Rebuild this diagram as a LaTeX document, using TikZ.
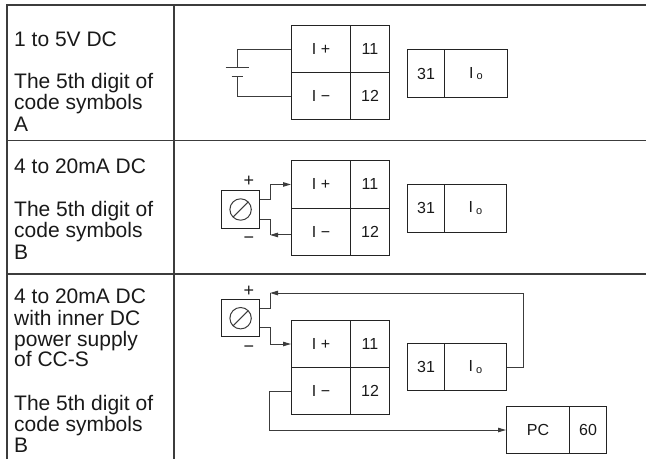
\documentclass[tikz,border=0pt]{standalone}
\usepackage{fontspec}
\setmainfont{Liberation Sans}
\usetikzlibrary{arrows.meta,calc}
\definecolor{tblc}{RGB}{60,60,60}
\definecolor{boxc}{RGB}{35,35,35}
\definecolor{wirec}{RGB}{60,60,60}
\definecolor{txtc}{RGB}{25,25,25}
\tikzset{
  tbl/.style={draw=tblc, line width=1.4pt},
  cell/.style 2 args={draw=boxc, line width=1pt, inner sep=0pt, anchor=north west,
    minimum width=#1pt, minimum height=#2pt, text=txtc, font=\fontsize{16}{16}\selectfont},
  pot/.style={draw=boxc, line width=1pt, inner sep=0pt, minimum size=37.5pt},
  wire/.style={draw=wirec, line width=1pt},
  tipa/.style={-{Triangle[length=8pt,width=4.5pt]}},
  lab/.style={inner sep=0pt, text=txtc, font=\fontsize{18}{18}\selectfont},
  txt/.style={anchor=base west, inner sep=0pt, text=txtc, font=\fontsize{21}{21}\selectfont}
}
\newcommand{\Iout}{I\kern3pt\raisebox{-1.8pt}{\fontsize{11}{11}\selectfont o}}
\begin{document}
\begin{tikzpicture}[x=1pt,y=-1pt]
\useasboundingbox (0,0) rectangle (646,459);
% table
\draw[tbl] (7,459) -- (7,5) -- (646,5);
\draw[tbl] (174,5) -- (174,459);
\draw[tbl] (7,140.5) -- (646,140.5);
\draw[tbl] (7,274) -- (646,274);
% left column texts
\node[txt] (t1a) at (14,46.5) {1 to 5V DC};
\node[txt] (t1b) at (14,88.5) {The 5th digit of};
\node[txt] (t1c) at (14,109.8) {code symbols};
\node[txt] (t1d) at (14,131) {A};
\node[txt] (t2a) at (14,173.3) {4 to 20mA DC};
\node[txt] (t2b) at (14,216) {The 5th digit of};
\node[txt] (t2c) at (14,237.3) {code symbols};
\node[txt] (t2d) at (14,259) {B};
\node[txt] (t3a) at (14,303.3) {4 to 20mA DC};
\node[txt] (t3b) at (14,325) {with inner DC};
\node[txt] (t3c) at (14,346) {power supply};
\node[txt] (t3d) at (14,366.7) {of CC-S};
\node[txt] (t3e) at (14,410) {The 5th digit of};
\node[txt] (t3f) at (14,431.3) {code symbols};
\node[txt] (t3g) at (14,452.7) {B};
% row 1
\node[cell={59}{47}] (a1p) at (291,25) {I +};
\node[cell={39}{47}] (a11) at (350,25) {11};
\node[cell={59}{47}] (a1n) at (291,72) {I −};
\node[cell={39}{47}] (a12) at (350,72) {12};
\node[cell={37}{48}] (a31) at (407,49) {31};
\node[cell={63}{48}] (aio) at (444,49) {\Iout};
\coordinate (bt1) at (237,67.7);
\coordinate (bt2) at (237,76);
\draw[wire] (a1p.west) -| (bt1);
\draw[wire] ($(bt1)+(-11.5,0)$) -- ($(bt1)+(11.5,0)$);
\draw[wire] ($(bt2)+(-5.5,0)$) -- ($(bt2)+(5.5,0)$);
\draw[wire] (bt2) |- (a1n.west);
% row 2
\node[cell={59}{47.3}] (b1p) at (291,160.3) {I +};
\node[cell={39}{47.3}] (b11) at (350,160.3) {11};
\node[cell={59}{47.7}] (b1n) at (291,207.6) {I −};
\node[cell={39}{47.7}] (b12) at (350,207.6) {12};
\node[cell={37}{47.5}] (b31) at (407,184) {31};
\node[cell={62}{47.5}] (bio) at (444,184) {\Iout};
\node[pot] (p2) at (240.6,209.5) {};
\draw[wire] (p2.center) circle (10.7);
\draw[wire] ($(p2.center)+(135:10.7)$) -- ($(p2.center)+(-45:10.7)$);
\node[lab] (p2plus) at (249,181) {+};
\node[lab] (p2minus) at (249,240) {−};
\coordinate (p2a) at ($(p2.north east)!0.25!(p2.south east)$);
\coordinate (p2b) at ($(p2.north east)!0.75!(p2.south east)$);
\draw[wire,tipa] (p2a) -- ++(10.5,0) |- (b1p.west);
\coordinate (b2nw) at ($(b1n.west)+(0,3)$);
\draw[wire,tipa] (b2nw) -- ++(-21,0) coordinate (k2);
\draw[wire] (k2) |- (p2b);
% row 3
\node[cell={59}{47}] (c1p) at (291,320) {I +};
\node[cell={39}{47}] (c11) at (350,320) {11};
\node[cell={59}{47}] (c1n) at (291,367) {I −};
\node[cell={39}{47}] (c12) at (350,367) {12};
\node[cell={37}{47}] (c31) at (407,343) {31};
\node[cell={62}{47}] (cio) at (444,343) {\Iout};
\node[cell={63}{47}] (pc) at (506,406) {PC};
\node[cell={37}{47}] (c60) at (569,406) {60};
\node[pot] (p3) at (240.6,318.2) {};
\draw[wire] (p3.center) circle (10.7);
\draw[wire] ($(p3.center)+(135:10.7)$) -- ($(p3.center)+(-45:10.7)$);
\node[lab] (p3plus) at (249,290.8) {+};
\node[lab] (p3minus) at (249,349.3) {−};
\coordinate (p3a) at ($(p3.north east)!0.25!(p3.south east)$);
\coordinate (p3b) at ($(p3.north east)!0.75!(p3.south east)$);
\coordinate (k3) at (270,293);
\draw[wire,tipa] (cio.east) -- ++(16,0) |- (k3);
\draw[wire] (k3) |- (p3a);
\draw[wire,tipa] (p3b) -- ++(10.5,0) |- (c1p.west);
\draw[wire,tipa] (c1n.west) -- ++(-22,0) |- (pc.west);
\end{tikzpicture}
\end{document}
